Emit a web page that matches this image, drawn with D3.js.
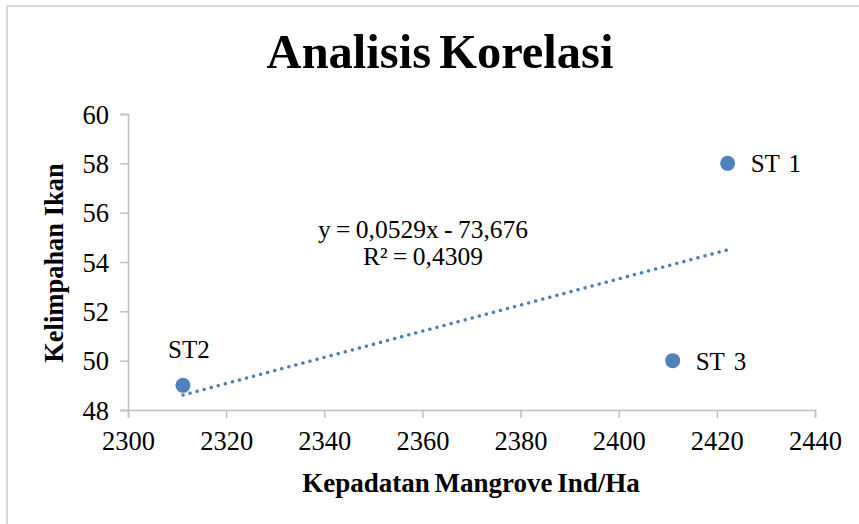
<!DOCTYPE html>
<html>
<head>
<meta charset="utf-8">
<script src="https://cdn.jsdelivr.net/npm/d3@7"></script>
<style>
  body { margin: 0; background: #fff; }
  svg text { font-family: "Liberation Serif", "Times New Roman", serif; fill: #000; }
</style>
</head>
<body>
<svg id="chart" width="859" height="524"></svg>
<script>
// station data
var stations = ["ST 1", "ST2", "ST 3"];
var density  = [2422.2, 2311.2, 2411.0];   // Kepadatan Mangrove Ind/Ha
var fish     = [58, 49, 50];               // Kelimpahan Ikan
var xTicks = [2300, 2320, 2340, 2360, 2380, 2400, 2420, 2440];
var yTicks = [48, 50, 52, 54, 56, 58, 60];
var equationLines = ["y = 0,0529x - 73,676", "R\u00b2 = 0,4309"];

var svg = d3.select("#chart");

// outer chart frame (runs off the right and bottom of the picture)
svg.append("rect")
    .attr("x", 7).attr("y", 6)
    .attr("width", 900).attr("height", 560)
    .attr("fill", "#fff")
    .attr("stroke", "#d9d9d9")
    .attr("stroke-width", 2);

// plot area spans x 128 - 815, y 114 - 410
var xScale = d3.scaleLinear().domain([2300, 2440]).range([128, 815]);
var yScale = d3.scaleLinear().domain([48, 60]).range([410, 114]);

var xAxis = d3.axisBottom(xScale)
    .tickValues(xTicks)
    .tickSizeInner(8)
    .tickSizeOuter(8)
    .tickPadding(13)
    .tickFormat(d3.format("d"));

var yAxis = d3.axisLeft(yScale)
    .tickValues(yTicks)
    .tickSizeInner(8)
    .tickSizeOuter(8)
    .tickPadding(11)
    .tickFormat(d3.format("d"));

var gx = svg.append("g")
    .attr("transform", "translate(0,410)")
    .call(xAxis);

var gy = svg.append("g")
    .attr("transform", "translate(128,0)")
    .call(yAxis);

[gx, gy].forEach(function(g) {
  g.select(".domain").attr("stroke", "#bfbfbf").attr("stroke-width", 1.5);
  g.selectAll(".tick line").attr("stroke", "#bfbfbf").attr("stroke-width", 1.5);
  g.selectAll(".tick text")
    .attr("font-family", "Liberation Serif")
    .attr("font-size", 26.5)
    .attr("fill", "#000");
});
gx.selectAll(".tick text").attr("dy", "0.71em");
gy.selectAll(".tick text").attr("dy", "0.34em");

// linear trend line (least squares from the points)
var mx = d3.mean(density), my = d3.mean(fish);
var sxy = d3.sum(density, function(d, i) { return (d - mx) * (fish[i] - my); });
var sxx = d3.sum(density, function(d) { return (d - mx) * (d - mx); });
var slope = sxy / sxx;
var intercept = my - slope * mx;
var xMin = d3.min(density), xMax = d3.max(density);

svg.append("line")
    .attr("x1", xScale(xMin))
    .attr("y1", yScale(slope * xMin + intercept))
    .attr("x2", xScale(xMax))
    .attr("y2", yScale(slope * xMax + intercept))
    .attr("stroke", "#4a7ebb")
    .attr("stroke-width", 3.4)
    .attr("stroke-linecap", "round")
    .attr("stroke-dasharray", "0.1,7.2");

// points
svg.selectAll("circle.pt")
    .data(density)
    .enter().append("circle")
    .attr("class", "pt")
    .attr("cx", function(d) { return xScale(d); })
    .attr("cy", function(d, i) { return yScale(fish[i]); })
    .attr("r", 7.5)
    .attr("fill", "#4f81bd");

// point labels: ST2 sits above its marker, the others to the right
svg.selectAll("text.lbl")
    .data(stations)
    .enter().append("text")
    .attr("class", "lbl")
    .attr("font-size", 25)
    .attr("text-anchor", function(d, i) { return i === 1 ? "middle" : "start"; })
    .attr("x", function(d, i) { return xScale(density[i]) + (i === 1 ? 6 : 23); })
    .attr("y", function(d, i) { return yScale(fish[i]) + (i === 1 ? -27 : 9); })
    .style("word-spacing", "3px")
    .text(function(d) { return d; });

// equation
svg.selectAll("text.eq")
    .data(equationLines)
    .enter().append("text")
    .attr("class", "eq")
    .attr("x", 423)
    .attr("y", function(d, i) { return 238 + i * 27; })
    .attr("text-anchor", "middle")
    .attr("font-size", 25.5)
    .style("word-spacing", "-1px")
    .text(function(d) { return d; });

// title
svg.append("text")
    .attr("x", 440)
    .attr("y", 68)
    .attr("text-anchor", "middle")
    .attr("font-size", 48.5)
    .attr("font-weight", "bold")
    .style("word-spacing", "-4px")
    .text("Analisis Korelasi");

// axis titles
svg.append("text")
    .attr("x", 471)
    .attr("y", 492)
    .attr("text-anchor", "middle")
    .attr("font-size", 27)
    .attr("font-weight", "bold")
    .style("word-spacing", "-2px")
    .text("Kepadatan Mangrove Ind/Ha");

svg.append("text")
    .attr("transform", "translate(63,263) rotate(-90)")
    .attr("text-anchor", "middle")
    .attr("font-size", 26.5)
    .attr("font-weight", "bold")
    .text("Kelimpahan Ikan");
</script>
</body>
</html>
